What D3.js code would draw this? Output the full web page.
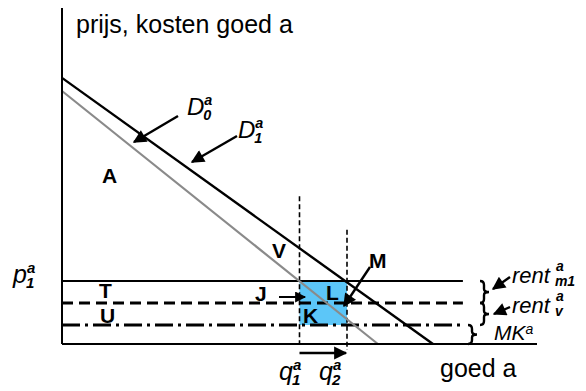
<!DOCTYPE html>
<html><head><meta charset="utf-8">
<script src="https://cdn.jsdelivr.net/npm/d3@7"></script>
<style>body{margin:0;background:#fff}svg{display:block}text{font-family:"Liberation Sans",Arial,sans-serif}</style>
</head><body><svg id="c" width="586" height="391"></svg>
<script>
// ---- data (abstract units: quantity 0..100, price 0..100) ----
const demandNames = ["D0", "D1"];
const demandPriceIntercepts = [75.3, 79.2];
const demandQuantityIntercepts = [66.5, 78.1];
const priceLevelNames = ["p1", "rent_v", "MK"];
const priceLevels = [18.75, 12.2, 5.65];
const quantityNames = ["q1", "q2"];
const quantities = [50, 60];

const svg = d3.select("#c");
const x = d3.scaleLinear().domain([0, 100]).range([62, 537]);
const y = d3.scaleLinear().domain([0, 100]).range([344, 8]);

// shaded area between q1,q2 and MK,p1
svg.append("rect")
  .attr("x", x(quantities[0])).attr("width", x(quantities[1]) - x(quantities[0]))
  .attr("y", y(priceLevels[0])).attr("height", y(priceLevels[2]) - y(priceLevels[0]))
  .attr("fill", "#5cc6f8");

// horizontal levels
const levelStyle = [
  {w: 2.2, dash: null},
  {w: 3, dash: "11,6"},
  {w: 3, dash: "18,5,3,5"}
];
priceLevels.forEach((p, i) => {
  svg.append("line").attr("x1", x(0)).attr("x2", x(84.4))
    .attr("y1", y(p)).attr("y2", y(p))
    .attr("stroke", "#000").attr("stroke-width", levelStyle[i].w)
    .attr("stroke-dasharray", levelStyle[i].dash);
});

// vertical dashed quantity lines
const vTop = [44, 34];
const vBot = [0, -1.8];
quantities.forEach((q, i) => {
  svg.append("line").attr("x1", x(q)).attr("x2", x(q))
    .attr("y1", y(vTop[i])).attr("y2", y(vBot[i]))
    .attr("stroke", "#000").attr("stroke-width", 1.6).attr("stroke-dasharray", "5,3");
});

// demand lines
const demandColor = ["#8a8a8a", "#000"];
const demandWidth = [2.2, 2.4];
demandNames.forEach((n, i) => {
  svg.append("line")
    .attr("x1", x(0)).attr("y1", y(demandPriceIntercepts[i]))
    .attr("x2", x(demandQuantityIntercepts[i])).attr("y2", y(0))
    .attr("stroke", demandColor[i]).attr("stroke-width", demandWidth[i]);
});

// axes
svg.append("line").attr("x1", x(0)).attr("x2", x(0)).attr("y1", y(100)).attr("y2", y(0))
  .attr("stroke", "#000").attr("stroke-width", 2);
svg.append("line").attr("x1", x(0)).attr("x2", x(100)).attr("y1", y(0)).attr("y2", y(0))
  .attr("stroke", "#000").attr("stroke-width", 2);

// arrow marker
const defs = svg.append("defs");
defs.append("marker").attr("id", "ah").attr("viewBox", "0 0 10 10")
  .attr("refX", 9).attr("refY", 5).attr("markerWidth", 6).attr("markerHeight", 5.5)
  .attr("markerUnits", "strokeWidth").attr("orient", "auto")
  .append("path").attr("d", "M0,0 L10,5 L0,10 z").attr("fill", "#000");

function arrow(x1, y1, x2, y2, w) {
  svg.append("line").attr("x1", x1).attr("y1", y1).attr("x2", x2).attr("y2", y2)
    .attr("stroke", "#000").attr("stroke-width", w || 2.4).attr("marker-end", "url(#ah)");
}

// annotation arrows
arrow(178, 116, 134, 142);
arrow(237, 136, 192, 162);
arrow(370, 267, 344, 306);
arrow(279, 297, 305, 297, 2);
arrow(x(quantities[0]), 353, 346, 353, 2.4);
arrow(510, 277, 493, 289, 2.4);
arrow(510, 307, 494, 314, 2.4);

function txt(s, px, py, size, opts) {
  opts = opts || {};
  return svg.append("text").attr("x", px).attr("y", py)
    .attr("font-size", size)
    .attr("font-weight", opts.bold ? "bold" : "normal")
    .attr("font-style", opts.italic ? "italic" : "normal")
    .attr("text-anchor", opts.anchor || "start")
    .text(s);
}
// title & axis label
txt("prijs, kosten goed a", 76, 33, 25);
txt("goed a", 440, 377, 25);

// bold letters
[["A", 102, 183], ["V", 272, 258], ["M", 369, 268], ["L", 326, 300],
 ["K", 303, 323], ["J", 255, 301], ["T", 99, 298], ["U", 100, 323]]
  .forEach(d => txt(d[0], d[1], d[2], 21, {bold: true}));

// symbol with super/subscript
function sym(main, sup, sub, px, py, size) {
  const t = txt(main, px, py, size, {italic: true});
  const w = t.node().getComputedTextLength();
  txt(sup, px + w, py - size * 0.42, size * 0.6, {italic: true, bold: true});
  txt(sub, px + w - 1, py + size * 0.2, size * 0.6, {italic: true, bold: true});
}
sym("D", "a", "0", 187, 115, 24);
sym("D", "a", "1", 238, 138, 24);
sym("p", "a", "1", 13, 283, 25);
sym("q", "a", "1", 279, 380, 25);
sym("q", "a", "2", 319, 380, 25);

// rent labels
function rent(sub, py) {
  const t = txt("rent", 512, py, 22, {italic: true});
  const w = t.node().getComputedTextLength();
  txt("a", 512 + w + 6, py - 12, 14, {italic: true, bold: true});
  txt(sub, 512 + w + 5, py + 3, 14, {italic: true, bold: true});
}
rent("m1", 283);
rent("v", 313);
const mk = txt("MK", 494, 340, 21, {italic: true});
txt("a", 494 + mk.node().getComputedTextLength(), 334, 14, {italic: true});

// braces
function brace(bx, y0, y1) {
  const m = (y0 + y1) / 2;
  const p = `M${bx - 4},${y0} Q${bx},${y0} ${bx},${y0 + 4} L${bx},${m - 3} Q${bx},${m} ${bx + 5},${m}` +
            ` Q${bx},${m} ${bx},${m + 3} L${bx},${y1 - 4} Q${bx},${y1} ${bx - 4},${y1}`;
  svg.append("path").attr("d", p).attr("fill", "none").attr("stroke", "#000").attr("stroke-width", 2.4);
}
brace(484, y(priceLevels[0]), y(priceLevels[1]));
brace(484, y(priceLevels[1]), y(priceLevels[2]));
brace(472, y(priceLevels[2]), y(0));
</script></body></html>
